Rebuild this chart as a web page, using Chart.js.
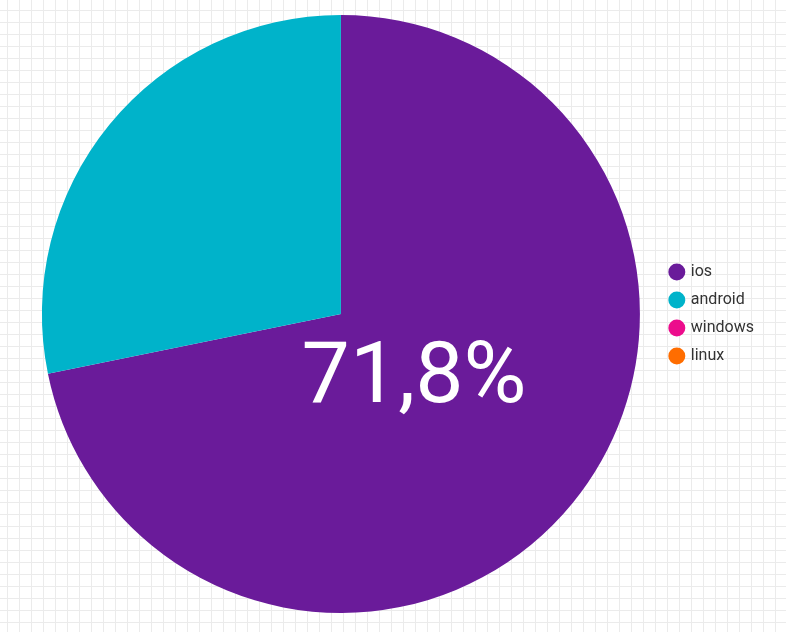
<!DOCTYPE html>
<html>
<head>
<meta charset="utf-8">
<script src="https://cdn.jsdelivr.net/npm/chart.js@4/dist/chart.umd.min.js"></script>
<style>
  html, body { margin: 0; padding: 0; }
  body {
    width: 786px; height: 632px; overflow: hidden;
    background-color: #fff;
    background-image:
      linear-gradient(to right, #ebebeb 1px, transparent 1px),
      linear-gradient(to bottom, #ebebeb 1px, transparent 1px);
    background-size: 12px 12px;
    background-position: 7px 10px;
  }
  #wrap { position: relative; width: 786px; height: 632px; }
</style>
</head>
<body>
<div id="wrap"><canvas id="chart"></canvas></div>
<script>
const platforms = ["ios", "android", "windows", "linux"]
const shares = [71.8, 28.2, 0, 0]
const sliceColors = ["#6a1b9a", "#00b3ca", "#ec0c8c", "#ff6d00"]

// big percentage label drawn inside the first slice
const centerLabel = {
  id: "centerLabel",
  afterDatasetsDraw(chart) {
    const arc = chart.getDatasetMeta(0).data[0]
    if (!arc) return
    const { x, y, startAngle, endAngle, outerRadius } = arc.getProps(["x", "y", "startAngle", "endAngle", "outerRadius"], true)
    const mid = (startAngle + endAngle) / 2
    const r = outerRadius * 0.32
    const ctx = chart.ctx
    ctx.save()
    ctx.fillStyle = "#fff"
    ctx.font = "86px Roboto"
    ctx.textAlign = "center"
    ctx.textBaseline = "middle"
    const total = shares.reduce((a, b) => a + b, 0)
    const pct = (shares[0] / total * 100).toFixed(1).replace(".", ",") + "%"
    ctx.fillText(pct, x + Math.cos(mid) * r - 1, y + Math.sin(mid) * r + 6)
    ctx.restore()
  }
}

new Chart(document.getElementById("chart"), {
  type: "pie",
  data: {
    labels: platforms,
    datasets: [{
      data: shares,
      backgroundColor: sliceColors,
      borderWidth: 0
    }]
  },
  options: {
    responsive: true,
    maintainAspectRatio: false,
    animation: false,
    layout: { padding: { top: 15, bottom: 19, left: 23, right: 22 } },
    plugins: {
      tooltip: { enabled: false },
      legend: {
        position: "right",
        labels: {
          usePointStyle: true,
          pointStyle: "circle",
          boxWidth: 12,
          boxHeight: 12,
          padding: 12,
          color: "#333",
          font: { family: "Roboto", size: 16 }
        }
      }
    }
  },
  plugins: [centerLabel]
})
</script>
</body>
</html>
